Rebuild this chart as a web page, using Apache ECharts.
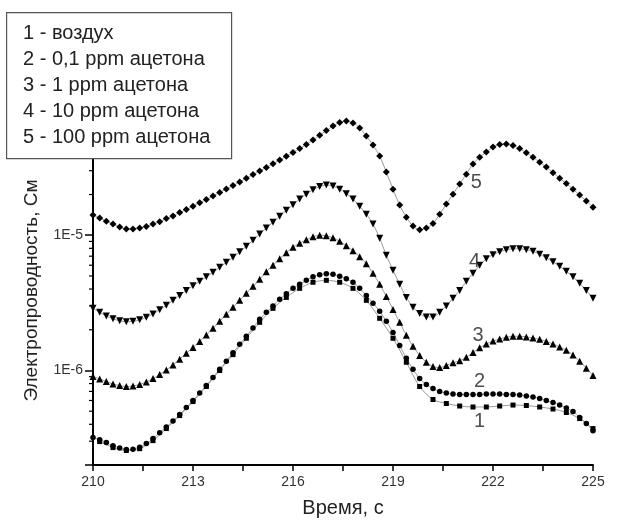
<!DOCTYPE html>
<html>
<head>
<meta charset="utf-8">
<script src="https://cdn.jsdelivr.net/npm/echarts@6/dist/echarts.min.js"></script>
<style>
html, body { margin: 0; padding: 0; background: #fff; }
#chart { width: 643px; height: 524px; }
</style>
</head>
<body>
<div id="chart"></div>
<script>
var seriesNames = ['1 - воздух', '2 - 0,1 ppm ацетона', '3 - 1 ppm ацетона', '4 - 10 ppm ацетона', '5 - 100 ppm ацетона'];

// time, s (step 0.2 s)
var time = [210, 210.2, 210.4, 210.6, 210.8, 211, 211.2, 211.4, 211.6, 211.8,
  212, 212.2, 212.4, 212.6, 212.8, 213, 213.2, 213.4, 213.6, 213.8,
  214, 214.2, 214.4, 214.6, 214.8, 215, 215.2, 215.4, 215.6, 215.8,
  216, 216.2, 216.4, 216.6, 216.8, 217, 217.2, 217.4, 217.6, 217.8,
  218, 218.2, 218.4, 218.6, 218.8, 219, 219.2, 219.4, 219.6, 219.8,
  220, 220.2, 220.4, 220.6, 220.8, 221, 221.2, 221.4, 221.6, 221.8,
  222, 222.2, 222.4, 222.6, 222.8, 223, 223.2, 223.4, 223.6, 223.8,
  224, 224.2, 224.4, 224.6, 224.8, 225];

// air curve is sampled every 0.4 s
var timeAir = [210.2, 210.6, 211, 211.4, 211.8, 212.2, 212.6, 213, 213.4, 213.8,
  214.2, 214.6, 215, 215.4, 215.8, 216.2, 216.6, 217, 217.4, 217.8,
  218.2, 218.6, 219, 219.4, 219.8, 220.2, 220.6, 221, 221.4, 221.8,
  222.2, 222.6, 223, 223.4, 223.8, 224.2, 224.6, 225];

var air = [2.98e-7, 2.69e-7, 2.56e-7, 2.64e-7, 3.03e-7, 3.72e-7, 4.64e-7, 5.89e-7, 7.61e-7, 1.00e-6,
  1.31e-6, 1.73e-6, 2.27e-6, 2.88e-6, 3.47e-6, 4.05e-6, 4.49e-6, 4.64e-6, 4.49e-6, 4.05e-6,
  3.30e-6, 2.43e-6, 1.73e-6, 1.15e-6, 7.61e-7, 6.10e-7, 5.70e-7, 5.46e-7, 5.37e-7, 5.37e-7,
  5.46e-7, 5.55e-7, 5.51e-7, 5.37e-7, 5.19e-7, 4.89e-7, 4.41e-7, 3.72e-7];

var acetone01 = [3.19e-7, 3.08e-7, 2.93e-7, 2.78e-7, 2.67e-7, 2.60e-7, 2.62e-7, 2.71e-7, 2.88e-7, 3.14e-7,
  3.47e-7, 3.82e-7, 4.23e-7, 4.72e-7, 5.32e-7, 6.00e-7, 6.81e-7, 7.74e-7, 8.88e-7, 1.02e-6,
  1.17e-6, 1.35e-6, 1.56e-6, 1.79e-6, 2.06e-6, 2.39e-6, 2.69e-6, 3.00e-6, 3.36e-6, 3.69e-6,
  4.05e-6, 4.34e-6, 4.64e-6, 4.93e-6, 5.10e-6, 5.19e-6, 5.14e-6, 4.97e-6, 4.76e-6, 4.49e-6,
  4.05e-6, 3.59e-6, 3.14e-6, 2.74e-6, 2.31e-6, 1.91e-6, 1.53e-6, 1.23e-6, 1.02e-6, 8.72e-7,
  7.88e-7, 7.36e-7, 6.99e-7, 6.81e-7, 6.70e-7, 6.64e-7, 6.64e-7, 6.64e-7, 6.64e-7, 6.70e-7,
  6.70e-7, 6.70e-7, 6.64e-7, 6.64e-7, 6.59e-7, 6.47e-7, 6.36e-7, 6.20e-7, 6.00e-7, 5.79e-7,
  5.55e-7, 5.28e-7, 4.97e-7, 4.49e-7, 4.05e-7, 3.59e-7];

var acetone1 = [9.03e-7, 8.65e-7, 8.29e-7, 7.94e-7, 7.74e-7, 7.61e-7, 7.68e-7, 7.88e-7, 8.22e-7, 8.72e-7,
  9.34e-7, 1.01e-6, 1.10e-6, 1.21e-6, 1.34e-6, 1.48e-6, 1.64e-6, 1.83e-6, 2.05e-6, 2.31e-6,
  2.60e-6, 2.93e-6, 3.30e-6, 3.72e-6, 4.19e-6, 4.72e-6, 5.37e-6, 6.00e-6, 6.70e-6, 7.42e-6,
  8.15e-6, 8.72e-6, 9.26e-6, 9.75e-6, 1.00e-5, 9.92e-6, 9.58e-6, 9.03e-6, 8.36e-6, 7.68e-6,
  6.93e-6, 6.15e-6, 5.23e-6, 4.34e-6, 3.53e-6, 2.83e-6, 2.27e-6, 1.82e-6, 1.51e-6, 1.29e-6,
  1.15e-6, 1.07e-6, 1.05e-6, 1.09e-6, 1.14e-6, 1.18e-6, 1.25e-6, 1.36e-6, 1.47e-6, 1.57e-6,
  1.65e-6, 1.71e-6, 1.76e-6, 1.79e-6, 1.79e-6, 1.77e-6, 1.74e-6, 1.70e-6, 1.64e-6, 1.57e-6,
  1.49e-6, 1.41e-6, 1.30e-6, 1.17e-6, 1.04e-6, 9.18e-7];

var acetone10 = [2.88e-6, 2.69e-6, 2.53e-6, 2.41e-6, 2.33e-6, 2.29e-6, 2.31e-6, 2.37e-6, 2.47e-6, 2.62e-6,
  2.81e-6, 3.03e-6, 3.30e-6, 3.59e-6, 3.91e-6, 4.23e-6, 4.56e-6, 4.93e-6, 5.32e-6, 5.79e-6,
  6.31e-6, 6.87e-6, 7.55e-6, 8.29e-6, 9.18e-6, 1.02e-5, 1.13e-5, 1.25e-5, 1.38e-5, 1.53e-5,
  1.68e-5, 1.85e-5, 2.01e-5, 2.17e-5, 2.29e-5, 2.35e-5, 2.31e-5, 2.19e-5, 2.03e-5, 1.85e-5,
  1.64e-5, 1.43e-5, 1.21e-5, 9.50e-6, 7.11e-6, 5.51e-6, 4.34e-6, 3.47e-6, 2.93e-6, 2.64e-6,
  2.49e-6, 2.49e-6, 2.69e-6, 3.00e-6, 3.42e-6, 3.91e-6, 4.56e-6, 5.23e-6, 6.00e-6, 6.70e-6,
  7.17e-6, 7.55e-6, 7.81e-6, 7.94e-6, 7.94e-6, 7.81e-6, 7.61e-6, 7.23e-6, 6.81e-6, 6.36e-6,
  5.89e-6, 5.41e-6, 4.93e-6, 4.41e-6, 3.91e-6, 3.42e-6];

var acetone100 = [1.41e-5, 1.34e-5, 1.27e-5, 1.21e-5, 1.15e-5, 1.11e-5, 1.11e-5, 1.13e-5, 1.16e-5, 1.21e-5,
  1.26e-5, 1.33e-5, 1.39e-5, 1.47e-5, 1.55e-5, 1.64e-5, 1.74e-5, 1.84e-5, 1.95e-5, 2.07e-5,
  2.20e-5, 2.33e-5, 2.48e-5, 2.64e-5, 2.81e-5, 2.99e-5, 3.17e-5, 3.38e-5, 3.60e-5, 3.84e-5,
  4.09e-5, 4.37e-5, 4.69e-5, 5.06e-5, 5.48e-5, 5.94e-5, 6.42e-5, 6.81e-5, 6.99e-5, 6.76e-5,
  6.20e-5, 5.41e-5, 4.64e-5, 3.85e-5, 2.93e-5, 2.19e-5, 1.67e-5, 1.36e-5, 1.17e-5, 1.10e-5,
  1.13e-5, 1.22e-5, 1.43e-5, 1.70e-5, 2.01e-5, 2.39e-5, 2.83e-5, 3.36e-5, 3.78e-5, 4.12e-5,
  4.49e-5, 4.68e-5, 4.72e-5, 4.60e-5, 4.37e-5, 4.08e-5, 3.78e-5, 3.47e-5, 3.19e-5, 2.90e-5,
  2.64e-5, 2.41e-5, 2.19e-5, 1.98e-5, 1.79e-5, 1.61e-5];

// log minor ticks on the y axis
var yMinorTicks = [3e-7, 4e-7, 5e-7, 6e-7, 7e-7, 8e-7, 9e-7,
  2e-6, 3e-6, 4e-6, 5e-6, 6e-6, 7e-6, 8e-6, 9e-6,
  2e-5, 3e-5, 4e-5, 5e-5, 6e-5, 7e-5, 8e-5, 9e-5];

// curve numbers: [text, time, value]
var curveLabels = [['1', 221.6, 4.19e-7], ['2', 221.6, 8.29e-7], ['3', 221.55, 1.82e-6],
  ['4', 221.45, 6.42e-6], ['5', 221.5, 2.47e-5]];

var FONT = 'Liberation Sans, Arial, sans-serif';

function pairs(xs, ys) {
  return xs.map(function (x, i) { return [x, ys[i]]; });
}

function curve(name, xs, ys, symbol, size, rotate) {
  return {
    name: name,
    type: 'line',
    data: pairs(xs, ys),
    smooth: 0.3,
    symbol: symbol,
    symbolSize: size,
    symbolRotate: rotate || 0,
    itemStyle: { color: '#000' },
    lineStyle: { color: '#999', width: 1 },
    z: 3
  };
}

var myChart = echarts.init(document.getElementById('chart'));

var legendItems = [{
  type: 'rect',
  left: 6,
  top: 12,
  z: 100,
  shape: { width: 225, height: 146 },
  style: { fill: '#fff', stroke: '#555', lineWidth: 1.2 }
}].concat(seriesNames.map(function (s, i) {
  return {
    type: 'text',
    left: 23,
    top: 23 + i * 26,
    z: 101,
    style: { text: s, font: '20px ' + FONT, fill: '#222' }
  };
}));

option = {
  animation: false,
  backgroundColor: '#fff',
  grid: { left: 93, right: 50, top: 100, bottom: 59, containLabel: false },
  xAxis: {
    type: 'value',
    min: 210,
    max: 225,
    interval: 1.5,
    name: 'Время, с',
    nameLocation: 'middle',
    nameGap: 33,
    nameTextStyle: { fontFamily: FONT, fontSize: 20, color: '#222' },
    axisLine: { lineStyle: { color: '#000', width: 2 } },
    axisTick: { inside: false, length: 6, lineStyle: { color: '#000', width: 1.5 } },
    axisLabel: {
      fontFamily: FONT, fontSize: 14, color: '#333', margin: 10,
      formatter: function (v) { return v % 3 === 0 ? String(v) : ''; }
    },
    splitLine: { show: false }
  },
  yAxis: {
    type: 'log',
    logBase: 10,
    min: 2e-7,
    max: 1e-4,
    name: 'Электропроводность, См',
    nameLocation: 'middle',
    nameGap: 52,
    nameTextStyle: { fontFamily: FONT, fontSize: 19, color: '#222', padding: [0, 16, 0, 0] },
    axisLine: { lineStyle: { color: '#000', width: 2 } },
    axisTick: { inside: false, length: 8, lineStyle: { color: '#000', width: 1.5 } },
    axisLabel: {
      fontFamily: FONT, fontSize: 14, color: '#333', margin: 10,
      formatter: function (v) {
        var e = Math.log10(v);
        if (Math.abs(e - Math.round(e)) > 1e-6 || e > -4.5) return '';
        return '1E' + Math.round(e);
      }
    },
    splitLine: { show: false }
  },
  series: [
    curve(seriesNames[0], timeAir, air, 'rect', 5),
    curve(seriesNames[1], time, acetone01, 'circle', 5.5),
    curve(seriesNames[2], time, acetone1, 'triangle', 7),
    curve(seriesNames[3], time, acetone10, 'triangle', 7, 180),
    curve(seriesNames[4], time, acetone100, 'diamond', 7),
    {
      type: 'custom',
      silent: true,
      clip: false,
      data: yMinorTicks.map(function (v) { return [210, v]; }),
      renderItem: function (params, api) {
        var p = api.coord([api.value(0), api.value(1)]);
        return {
          type: 'line',
          shape: { x1: p[0] - 4, y1: p[1], x2: p[0], y2: p[1] },
          style: { stroke: '#000', lineWidth: 1.2 }
        };
      },
      z: 5
    },
    {
      type: 'scatter',
      silent: true,
      symbolSize: 0,
      data: curveLabels.map(function (l) {
        return { value: [l[1], l[2]], label: { formatter: l[0] } };
      }),
      label: { show: true, position: 'inside', fontFamily: FONT, fontSize: 20, color: '#222' },
      z: 6
    }
  ],
  graphic: legendItems
};

myChart.setOption(option);
</script>
</body>
</html>
